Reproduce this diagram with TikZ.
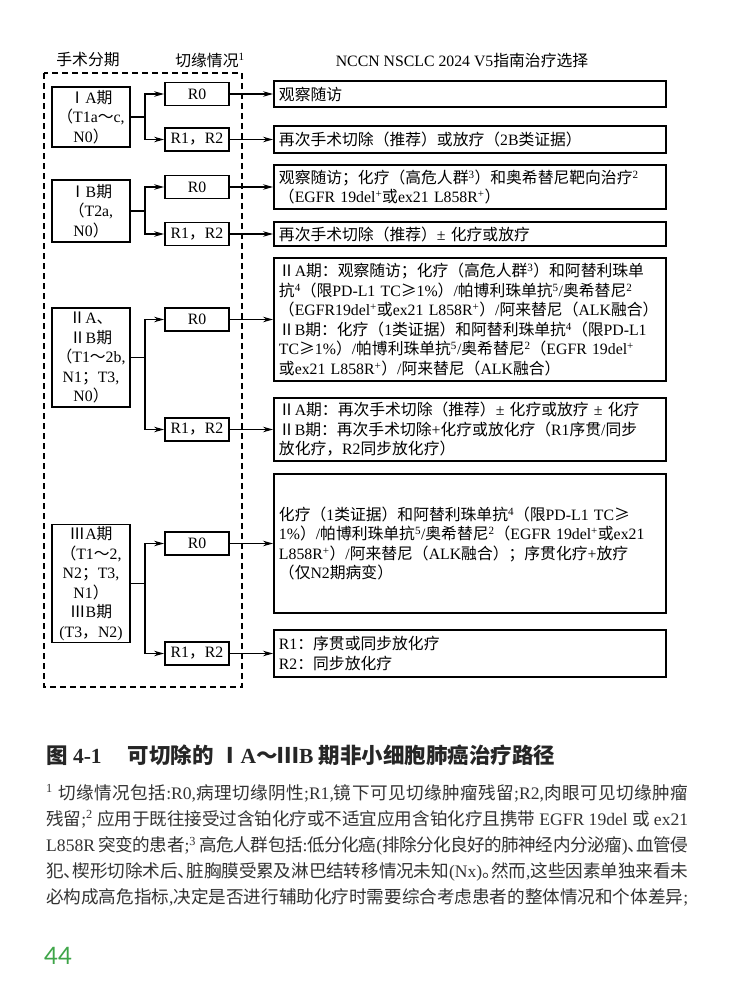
\documentclass[tikz,border=0pt]{standalone}
\usepackage{fontspec}
\setmainfont{Liberation Serif}
\newfontfamily\cjkfont{Noto Sans CJK SC}
\newfontfamily\pagefont{Lato}
\usetikzlibrary{arrows.meta}
\definecolor{pagegreen}{RGB}{62,165,72}

% Chinese characters are set in the CJK face, the rest in Liberation Serif
\newcount\cjkcode
\newXeTeXintercharclass\cjkclass
\newcommand\cjkrange[2]{%
  \cjkcode=#1\relax
  \loop
    \XeTeXcharclass\cjkcode=\cjkclass
    \ifnum\cjkcode<#2\relax
    \advance\cjkcode by 1
  \repeat}
\cjkrange{"2160}{"217F}
\cjkrange{"2265}{"2265}
\cjkrange{"3000}{"303F}
\cjkrange{"4E00}{"9FFF}
\cjkrange{"FF00}{"FFEF}
\newcommand\cjkglue{}
\newcommand\halfpunct[1]{\makebox[0.5em][l]{#1}}
\XeTeXinterchartoks 0 \cjkclass = {\cjkfont}
\XeTeXinterchartoks 4095 \cjkclass = {\cjkfont}
\XeTeXinterchartoks \cjkclass \cjkclass = {\cjkfont\cjkglue}
\XeTeXinterchartoks \cjkclass 0 = {\rmfamily}
\XeTeXinterchartoks \cjkclass 4095 = {\rmfamily}
\XeTeXinterchartoks 4095 0 = {\rmfamily}
\XeTeXinterchartokenstate=1

\begin{document}
\begin{tikzpicture}[x=1pt, y=-1pt,
  font=\fontsize{15.8}{19.5}\selectfont,
  stagebox/.style={draw, line width=1.9pt, align=center, minimum width=78pt, inner sep=2pt},
  cutbox/.style={draw, line width=1.9pt, minimum width=64pt, minimum height=23pt, inner sep=1pt},
  treatbox/.style={draw, line width=1.9pt, anchor=west, text width=382pt, inner xsep=5pt, inner ysep=2pt, align=left},
  arr/.style={line width=1.1pt, -{Stealth[length=10pt, width=5.5pt]}},
  noteline/.style={anchor=base west, inner sep=0pt, text=black!80, font={\fontsize{17.6}{26}\selectfont\def\cjkglue{\hskip 0pt plus 1pt minus 1pt}}}
]
\useasboundingbox (0,0) rectangle (730,993);
\fill[white] (0,0) rectangle (730,993);

% column heads
\node (hstage) at (88,60) {手术分期};
\node (hcut) at (210,60) {切缘情况\textsuperscript{1}};
\node (hguide) at (462,60) {NCCN NSCLC 2024 V5指南治疗选择};
\draw[line width=1.1pt, dash pattern=on 6pt off 4pt] (44,73) rectangle (242,687);

% stages
\node[stagebox, minimum height=60pt] (ia) at (91,117) {ⅠA期\\（T1a～c,\\N0）};
\node[stagebox, minimum height=62pt] (ib) at (91,211) {ⅠB期\\（T2a,\\N0）};
\node[stagebox, minimum height=99pt] (ii) at (91,357.5) {ⅡA、\\ⅡB期\\（T1～2b,\\N1；T3,\\N0）};
\node[stagebox, minimum height=117pt] (iii) at (91,583.5) {ⅢA期\\（T1～2,\\N2；T3,\\N1）\\ⅢB期\\(T3，N2)};

% margins
\node[cutbox] (ia0) at (197,94) {R0};
\node[cutbox] (ia12) at (197,139.5) {R1，R2};
\node[cutbox] (ib0) at (197,187) {R0};
\node[cutbox] (ib12) at (197,234) {R1，R2};
\node[cutbox] (ii0) at (197,319.5) {R0};
\node[cutbox] (ii12) at (197,429.5) {R1，R2};
\node[cutbox] (iii0) at (197,543.5) {R0};
\node[cutbox] (iii12) at (197,653.5) {R1，R2};

% treatment choices
\node[treatbox, minimum height=26pt] (t1) at (273,94) {观察随访};
\node[treatbox, minimum height=27pt] (t2) at (273,139.5) {再次手术切除（推荐）或放疗（2B类证据）};
\node[treatbox, minimum height=44pt] (t3) at (273,187) {观察随访；化疗（高危人群\textsuperscript{3}）和奥希替尼靶向治疗\textsuperscript{2}\\（EGFR 19del\textsuperscript{+}或ex21 L858R\textsuperscript{+}）};
\node[treatbox, minimum height=24pt] (t4) at (273,234) {再次手术切除（推荐）± 化疗或放疗};
\node[treatbox, minimum height=123pt] (t5) at (273,319.5) {ⅡA期：观察随访；化疗（高危人群\textsuperscript{3}）和阿替利珠单\\抗\textsuperscript{4}（限PD-L1 TC≥1\%）/帕博利珠单抗\textsuperscript{5}/奥希替尼\textsuperscript{2}\\（EGFR19del\textsuperscript{+}或ex21 L858R\textsuperscript{+}）/阿来替尼（ALK融合）\\ⅡB期：化疗（1类证据）和阿替利珠单抗\textsuperscript{4}（限PD-L1\\TC≥1\%）/帕博利珠单抗\textsuperscript{5}/奥希替尼\textsuperscript{2}（EGFR 19del\textsuperscript{+}\\或ex21 L858R\textsuperscript{+}）/阿来替尼（ALK融合）};
\node[treatbox, minimum height=63pt] (t6) at (273,429.5) {ⅡA期：再次手术切除（推荐）± 化疗或放疗 ± 化疗\\ⅡB期：再次手术切除+化疗或放化疗（R1序贯/同步\\放化疗，R2同步放化疗）};
\node[treatbox, minimum height=139pt] (t7) at (273,543.5) {化疗（1类证据）和阿替利珠单抗\textsuperscript{4}（限PD-L1 TC≥\\1\%）/帕博利珠单抗\textsuperscript{5}/奥希替尼\textsuperscript{2}（EGFR 19del\textsuperscript{+}或ex21\\L858R\textsuperscript{+}）/阿来替尼（ALK融合）；序贯化疗+放疗\\（仅N2期病变）};
\node[treatbox, minimum height=47pt] (t8) at (273,653.5) {R1：序贯或同步放化疗\\R2：同步放化疗};

% stage -> margin
\draw[arr] (ia.east) -- ++(14,0) |- (ia0.west);
\draw[arr] (ia.east) -- ++(14,0) |- (ia12.west);
\draw[arr] (ib.east) -- ++(14,0) |- (ib0.west);
\draw[arr] (ib.east) -- ++(14,0) |- (ib12.west);
\draw[arr] (ii.east) -- ++(14,0) |- (ii0.west);
\draw[arr] (ii.east) -- ++(14,0) |- (ii12.west);
\draw[arr] (iii.east) -- ++(14,0) |- (iii0.west);
\draw[arr] (iii.east) -- ++(14,0) |- (iii12.west);

% margin -> treatment
\draw[arr] (ia0) -- (t1);
\draw[arr] (ia12) -- (t2);
\draw[arr] (ib0) -- (t3);
\draw[arr] (ib12) -- (t4);
\draw[arr] (ii0) -- (t5);
\draw[arr] (ii12) -- (t6);
\draw[arr] (iii0) -- (t7);
\draw[arr] (iii12) -- (t8);

% caption and notes
\node[anchor=west, inner sep=0pt, text=black!85, font=\fontsize{21.5}{26}\selectfont\bfseries] (title) at (46,755) {图 4-1\hspace{26pt}可切除的 ⅠA～ⅢB 期非小细胞肺癌治疗路径};
\node[noteline] (fn1) at (46,799) {\makebox[642pt][s]{\textsuperscript{1} 切缘情况包括:R0,病理切缘阴性;R1,镜下可见切缘肿瘤残留;R2,肉眼可见切缘肿瘤}};
\node[noteline] (fn2) at (46,825.2) {\makebox[642pt][s]{残留;\textsuperscript{2} 应用于既往接受过含铂化疗或不适宜应用含铂化疗且携带 EGFR 19del 或 ex21}};
\node[noteline] (fn3) at (46,851.4) {\makebox[642pt][s]{L858R 突变的患者;\textsuperscript{3} 高危人群包括:低分化癌(排除分化良好的肺神经内分泌瘤)\halfpunct{、}血管侵}};
\node[noteline] (fn4) at (46,877.6) {\makebox[642pt][s]{犯\halfpunct{、}楔形切除术后\halfpunct{、}脏胸膜受累及淋巴结转移情况未知(Nx)\halfpunct{。}然而,这些因素单独来看未}};
\node[noteline] (fn5) at (46,903.8) {\makebox[642pt][s]{必构成高危指标,决定是否进行辅助化疗时需要综合考虑患者的整体情况和个体差异;}};
\node[anchor=base west, inner sep=0pt, text=pagegreen, font={\XeTeXinterchartokenstate=0\relax\pagefont\fontsize{24}{24}\selectfont}] (page) at (44,964) {44};
\end{tikzpicture}
\end{document}
